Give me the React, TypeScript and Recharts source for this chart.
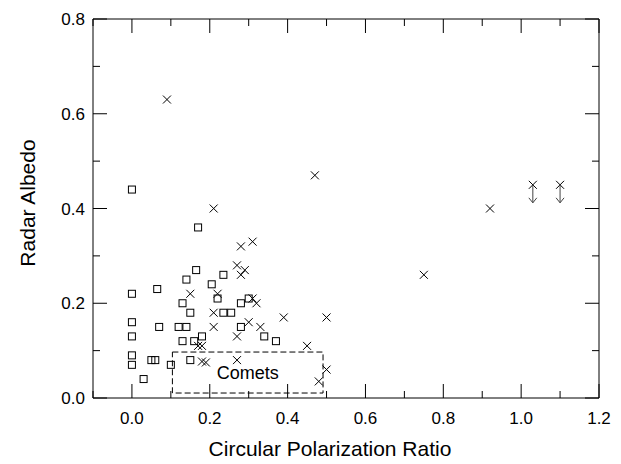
import React from 'react';
import {
  ScatterChart,
  Scatter,
  XAxis,
  YAxis,
  ReferenceLine,
  ReferenceArea,
} from 'recharts';

// square markers
const squareX = [0, 0.17, 0.165, 0.14, 0.235, 0.205, 0.065, 0, 0.22, 0.3, 0.28, 0.13, 0.15, 0.235, 0.255, 0, 0.07, 0.12, 0.14, 0.28, 0, 0.18, 0.13, 0.16, 0.34, 0.37, 0, 0, 0.05, 0.06, 0.1, 0.15, 0.03];
const squareY = [0.44, 0.36, 0.27, 0.25, 0.26, 0.24, 0.23, 0.22, 0.21, 0.21, 0.2, 0.2, 0.18, 0.18, 0.18, 0.16, 0.15, 0.15, 0.15, 0.15, 0.13, 0.13, 0.12, 0.12, 0.13, 0.12, 0.09, 0.07, 0.08, 0.08, 0.07, 0.08, 0.04];

// cross markers
const crossX = [0.09, 0.47, 0.21, 0.92, 0.31, 0.28, 0.27, 0.29, 0.28, 0.75, 0.15, 0.22, 0.31, 0.32, 0.21, 0.39, 0.5, 0.3, 0.21, 0.33, 0.27, 0.17, 0.18, 0.45, 0.18, 0.19, 0.27, 0.5, 0.48];
const crossY = [0.63, 0.47, 0.4, 0.4, 0.33, 0.32, 0.28, 0.27, 0.26, 0.26, 0.22, 0.22, 0.21, 0.2, 0.18, 0.17, 0.17, 0.16, 0.15, 0.15, 0.13, 0.11, 0.11, 0.11, 0.077, 0.075, 0.08, 0.06, 0.035];

// upper limits (cross with arrow)
const limitX = [1.03, 1.1];
const limitY = [0.45, 0.45];

const xTicks = [-0.1, 0, 0.1, 0.2, 0.3, 0.4, 0.5, 0.6, 0.7, 0.8, 0.9, 1.0, 1.1, 1.2];
const yTicks = [0, 0.1, 0.2, 0.3, 0.4, 0.5, 0.6, 0.7, 0.8];

const squares = squareX.map((x, i) => ({ x, y: squareY[i] }));
const crosses = crossX.map((x, i) => ({ x, y: crossY[i] }));
const limits = limitX.map((x, i) => ({ x, y: limitY[i] }));

const PLOT_TOP = 19;
const PLOT_BOTTOM = 398;
const PLOT_LEFT = 93;
const PLOT_RIGHT = 599;
const FONT = '"Liberation Sans", Arial, sans-serif';

const isMajor = (v: number) => Math.round(v * 10) % 2 === 0;

const XTick = (props: any) => {
  const { x, payload } = props;
  const v = payload.value;
  const len = isMajor(v) ? 14 : 7;
  return (
    <g>
      <line x1={x} x2={x} y1={PLOT_BOTTOM} y2={PLOT_BOTTOM - len} stroke="#000" />
      <line x1={x} x2={x} y1={PLOT_TOP} y2={PLOT_TOP + len} stroke="#000" />
      {isMajor(v) && (
        <text x={x} y={PLOT_BOTTOM + 26} textAnchor="middle" fontSize={17} fontFamily={FONT} fill="#000">
          {v.toFixed(1)}
        </text>
      )}
    </g>
  );
};

const YTick = (props: any) => {
  const { y, payload } = props;
  const v = payload.value;
  const len = isMajor(v) ? 14 : 7;
  return (
    <g>
      <line x1={PLOT_LEFT} x2={PLOT_LEFT + len} y1={y} y2={y} stroke="#000" />
      <line x1={PLOT_RIGHT} x2={PLOT_RIGHT - len} y1={y} y2={y} stroke="#000" />
      {isMajor(v) && (
        <text x={PLOT_LEFT - 8} y={y + 6} textAnchor="end" fontSize={17} fontFamily={FONT} fill="#000">
          {v.toFixed(1)}
        </text>
      )}
    </g>
  );
};

const Square = (props: any) => {
  const { cx, cy } = props;
  return <rect x={cx - 3.5} y={cy - 3.5} width={7} height={7} fill="none" stroke="#000" strokeWidth={1} />;
};

const Cross = (props: any) => {
  const { cx, cy } = props;
  return (
    <g stroke="#000" strokeWidth={1}>
      <line x1={cx - 4} y1={cy - 4} x2={cx + 4} y2={cy + 4} />
      <line x1={cx - 4} y1={cy + 4} x2={cx + 4} y2={cy - 4} />
    </g>
  );
};

const LimitCross = (props: any) => {
  const { cx, cy } = props;
  return (
    <g stroke="#000" strokeWidth={1} fill="none">
      <line x1={cx - 4} y1={cy - 4} x2={cx + 4} y2={cy + 4} />
      <line x1={cx - 4} y1={cy + 4} x2={cx + 4} y2={cy - 4} />
      <line x1={cx} y1={cy} x2={cx} y2={cy + 18} stroke="#444" />
      <polyline points={`${cx - 4},${cy + 13} ${cx},${cy + 18} ${cx + 4},${cy + 13}`} stroke="#444" />
    </g>
  );
};

const App: React.FC = () => {
  return (
    <div style={{ position: 'absolute', left: 0, top: 0, background: '#fff' }}>
      <ScatterChart width={621} height={464} margin={{ top: PLOT_TOP, right: 621 - PLOT_RIGHT, left: 0, bottom: 0 }}>
        <XAxis
          type="number"
          dataKey="x"
          domain={[-0.1, 1.2]}
          ticks={xTicks}
          interval={0}
          allowDataOverflow
          height={464 - PLOT_BOTTOM}
          tickSize={0}
          tickMargin={0}
          tickLine={false}
          axisLine={{ stroke: '#000' }}
          tick={<XTick />}
          label={{
            content: () => (
              <text x={330} y={456} textAnchor="middle" fontSize={21} fontFamily={FONT} fill="#000">
                Circular Polarization Ratio
              </text>
            ),
          }}
        />
        <YAxis
          type="number"
          dataKey="y"
          domain={[0, 0.8]}
          ticks={yTicks}
          interval={0}
          allowDataOverflow
          width={PLOT_LEFT}
          tickSize={0}
          tickMargin={0}
          tickLine={false}
          axisLine={{ stroke: '#000' }}
          tick={<YTick />}
          label={{
            content: () => (
              <text x={35} y={203} transform="rotate(-90 35 203)" textAnchor="middle" fontSize={21} fontFamily={FONT} fill="#000">
                Radar Albedo
              </text>
            ),
          }}
        />
        <ReferenceLine y={0.8} stroke="#000" />
        <ReferenceLine x={1.2} stroke="#000" />
        <ReferenceArea
          x1={0.104}
          x2={0.491}
          y1={0.0105}
          y2={0.097}
          fill="none"
          stroke="#000"
          strokeDasharray="6 3"
          label={{ value: 'Comets', position: 'center', fontSize: 18, fontFamily: FONT, fill: '#000' }}
        />
        <Scatter data={squares} shape={<Square />} isAnimationActive={false} />
        <Scatter data={crosses} shape={<Cross />} isAnimationActive={false} />
        <Scatter data={limits} shape={<LimitCross />} isAnimationActive={false} />
      </ScatterChart>
    </div>
  );
};

export default App;
